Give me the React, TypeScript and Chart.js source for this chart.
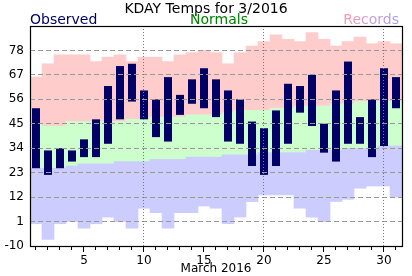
import React, { useEffect, useRef } from 'react';
import { Chart, registerables } from 'chart.js';

Chart.register(...registerables);

const days = [1, 2, 3, 4, 5, 6, 7, 8, 9, 10, 11, 12, 13, 14, 15, 16, 17, 18, 19, 20, 21, 22, 23, 24, 25, 26, 27, 28, 29, 30, 31];
const obsHigh = [52, 33, 34, 33, 38, 47, 62, 71, 72, 60, 56, 66, 58, 65, 70, 65, 60, 56, 46, 43, 51, 63, 62, 67, 45, 60, 73, 48, 56, 70, 66];
const obsLow = [25, 22, 25, 28, 30, 30, 36, 47, 55, 47, 39, 37, 49, 54, 52, 48, 37, 36, 26, 22, 26, 36, 50, 44, 32, 28, 36, 36, 30, 35, 52];
const normHigh = [45, 44, 44, 46, 46, 46, 46, 46, 47, 47, 48, 48, 48, 49, 49, 49, 50, 51, 51, 51, 52, 52, 53, 53, 53, 54, 54, 55, 55, 55, 55];
const normLow = [25, 25, 25, 26, 27, 27, 27, 28, 28, 28, 29, 29, 29, 30, 30, 30, 31, 31, 31, 32, 32, 32, 32, 33, 33, 33, 34, 34, 34, 35, 35];
const recHigh = [66, 72, 76, 76, 76, 73, 75, 76, 73, 75, 75, 73, 76, 77, 78, 77, 72, 77, 80, 82, 85, 83, 82, 86, 83, 80, 82, 84, 81, 82, 81];
const recLow = [0, -7, 0, 1, -2, 0, 3, 1, -2, 7, 5, -2, 5, 5, 8, 7, 0, 3, 10, 13, 13, 13, 7, 3, 1, 10, 11, 16, 17, 17, 12];

const yTickLabels = [-10, 1, 12, 23, 34, 45, 56, 67, 78];
const yGridValues = [1, 12, 23, 34, 45, 56, 67, 78];
const xGridDays = [10, 20, 30];
const titleText = 'KDAY Temps for 3/2016';
const xAxisTitle = 'March 2016';
const legendObserved = 'Observed';
const legendNormals = 'Normals';
const legendRecords = 'Records';

const FONT = '"DejaVu Sans", Verdana, sans-serif';

const overlayPlugin = {
  id: 'overlay',
  afterDatasetsDraw(chart: any) {
    const { ctx, chartArea: a, scales } = chart;
    const x = scales.x;
    const y = scales.y;
    ctx.save();
    ctx.strokeStyle = '#999999';
    ctx.lineWidth = 1;
    ctx.setLineDash([5, 3]);
    for (const v of yGridValues) {
      const py = Math.floor(y.getPixelForValue(v)) + 0.5;
      ctx.beginPath();
      ctx.moveTo(a.left, py);
      ctx.lineTo(a.right, py);
      ctx.stroke();
    }
    ctx.strokeStyle = '#777777';
    ctx.setLineDash([1, 2]);
    for (const d of xGridDays) {
      const px = Math.round(x.getPixelForValue(d)) - 0.5;
      ctx.beginPath();
      ctx.moveTo(px, a.top);
      ctx.lineTo(px, a.bottom);
      ctx.stroke();
    }
    ctx.setLineDash([]);
    ctx.strokeStyle = '#000';
    ctx.lineWidth = 1;
    for (const d of days) {
      const px = Math.round(x.getPixelForValue(d)) - 0.5;
      ctx.beginPath();
      ctx.moveTo(px, a.bottom);
      ctx.lineTo(px, a.bottom + (d % 5 === 0 ? 6 : 4));
      ctx.stroke();
    }
    ctx.lineWidth = 1.2;
    ctx.strokeRect(a.left + 0.5, a.top + 0.5, a.right - a.left, a.bottom - a.top);
    ctx.restore();
  },
  afterDraw(chart: any) {
    const { ctx, chartArea: a, width } = chart;
    ctx.save();
    ctx.font = '14px ' + FONT;
    ctx.textBaseline = 'alphabetic';
    ctx.textAlign = 'center';
    ctx.fillStyle = '#000';
    ctx.fillText(titleText, width / 2, 13);
    ctx.textAlign = 'left';
    ctx.fillStyle = '#000066';
    ctx.fillText(legendObserved, a.left, 24);
    ctx.textAlign = 'center';
    ctx.fillStyle = '#008000';
    ctx.fillText(legendNormals, (a.left + a.right) / 2 + 3, 24);
    ctx.textAlign = 'right';
    const w = ctx.measureText(legendRecords).width;
    const g = ctx.createLinearGradient(a.right - 3 - w, 0, a.right - 3, 0);
    g.addColorStop(0, '#ff9aaa');
    g.addColorStop(1, '#a0a0ff');
    ctx.fillStyle = g;
    ctx.fillText(legendRecords, a.right - 3, 24);
    ctx.restore();
  },
};

export default function App() {
  const ref = useRef<HTMLCanvasElement>(null);
  useEffect(() => {
    document.body.style.margin = '0';
    const mk = (lo: number[], hi: number[]) => days.map((d, i) => ({ x: d, y: [lo[i], hi[i]] }));
    const chart = new Chart(ref.current as HTMLCanvasElement, {
      type: 'bar',
      data: {
        datasets: [
          { label: 'Observed', data: mk(obsLow, obsHigh) as any, backgroundColor: '#000066', barThickness: 8, grouped: false, order: 0, borderWidth: 0, inflateAmount: 0 } as any,
          { label: 'RecLow', data: mk(recLow, normLow) as any, backgroundColor: '#ccccff', barThickness: 12, grouped: false, order: 1, borderWidth: 0 } as any,
          { label: 'Normals', data: mk(normLow, normHigh) as any, backgroundColor: '#ccffcc', barThickness: 12, grouped: false, order: 2, borderWidth: 0 } as any,
          { label: 'RecHigh', data: mk(normHigh, recHigh) as any, backgroundColor: '#ffcccc', barThickness: 12, grouped: false, order: 3, borderWidth: 0 } as any,
        ],
      },
      options: {
        animation: false,
        responsive: false,
        devicePixelRatio: 1,
        layout: { padding: { top: 26, right: 10, left: 0, bottom: 0 } },
        plugins: { legend: { display: false }, title: { display: false }, tooltip: { enabled: false } },
        scales: {
          x: {
            type: 'linear',
            min: 0.5,
            max: 31.5,
            offset: false,
            grid: { display: false, drawTicks: false },
            border: { display: false },
            ticks: { stepSize: 5, includeBounds: false, color: '#000', font: { family: FONT, size: 12 }, padding: 8, maxRotation: 0, autoSkip: false },
            title: { display: true, text: xAxisTitle, color: '#000', font: { family: FONT, size: 12 }, padding: { top: 0, bottom: 0 } },
            afterFit: (s: any) => { s.height = 30; },
          },
          y: {
            type: 'linear',
            min: -10,
            max: 89,
            grid: { display: false, drawTicks: false },
            border: { display: false },
            ticks: {
              stepSize: 11,
              color: '#000',
              font: { family: FONT, size: 12 },
              padding: 6,
              callback: (v: any) => (yTickLabels.includes(Number(v)) ? String(v) : ''),
            },
            afterFit: (s: any) => { s.width = 30; },
          },
        },
      } as any,
      plugins: [overlayPlugin],
    });
    return () => chart.destroy();
  }, []);
  return (
    <div style={{ position: 'absolute', left: 0, top: 0, width: 412, height: 276 }}>
      <canvas ref={ref} width={412} height={276} style={{ display: 'block', width: 412, height: 276 }} />
    </div>
  );
}
